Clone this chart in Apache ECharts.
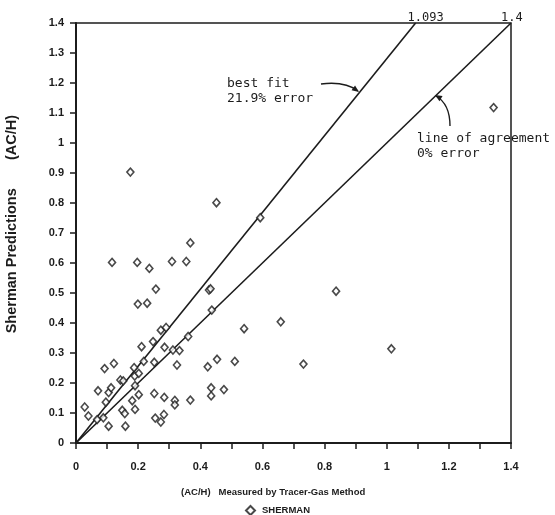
<!DOCTYPE html>
<html>
<head>
<meta charset="utf-8">
<script src="https://cdn.jsdelivr.net/npm/echarts@6/dist/echarts.min.js"></script>
<style>
  html, body { margin: 0; padding: 0; background: #fff; }
  #chart { width: 555px; height: 515px; }
</style>
</head>
<body>
<div id="chart"></div>
<script>
// air changes per hour, measured (x) vs Sherman prediction (y)
const measured = [
  0.028, 0.040, 0.068, 0.088, 0.071, 0.092, 0.122, 0.096, 0.105, 0.113,
  0.105, 0.143, 0.152, 0.149, 0.157, 0.159, 0.181, 0.190, 0.202, 0.187,
  0.189, 0.202, 0.190, 0.211, 0.218, 0.248, 0.252, 0.273, 0.290, 0.285,
  0.312, 0.333, 0.325, 0.361, 0.252, 0.284, 0.318, 0.318, 0.368, 0.255,
  0.273, 0.283, 0.116, 0.197, 0.236, 0.309, 0.355, 0.368, 0.257, 0.199,
  0.229, 0.428, 0.433, 0.437, 0.424, 0.454, 0.511, 0.435, 0.435, 0.476,
  0.541, 0.659, 0.837, 0.732, 1.015, 0.175, 0.452, 0.593, 1.344
]
const predicted = [
  0.120, 0.090, 0.078, 0.084, 0.174, 0.248, 0.265, 0.136, 0.168, 0.184,
  0.056, 0.210, 0.207, 0.109, 0.098, 0.056, 0.141, 0.112, 0.161, 0.251,
  0.223, 0.232, 0.191, 0.321, 0.272, 0.338, 0.269, 0.376, 0.385, 0.319,
  0.310, 0.308, 0.260, 0.355, 0.165, 0.152, 0.142, 0.127, 0.143, 0.083,
  0.070, 0.095, 0.602, 0.602, 0.582, 0.605, 0.605, 0.667, 0.513, 0.463,
  0.466, 0.510, 0.514, 0.443, 0.254, 0.279, 0.272, 0.184, 0.157, 0.178,
  0.381, 0.404, 0.506, 0.263, 0.314, 0.903, 0.801, 0.751, 1.118
]
const bestFitLine = [[0, 0], [1.093, 1.4]]
const agreementLine = [[0, 0], [1.4, 1.4]]
const xTickLabels = ['0', '', '0.2', '', '0.4', '', '0.6', '', '0.8', '', '1', '', '1.2', '', '1.4']
const yTickLabels = ['0', '0.1', '0.2', '0.3', '0.4', '0.5', '0.6', '0.7', '0.8', '0.9', '1', '1.1', '1.2', '1.3', '1.4']

const ink = '#1c1c1c'
const tickFont = { color: ink, fontFamily: 'Liberation Sans', fontWeight: 'bold', fontSize: 11 }
const monoFont = 'DejaVu Sans Mono'

function points() {
  return measured.map((x, i) => [x, predicted[i]])
}

// little filled triangle at the end of a curved pointer
function arrowHead(tip, from) {
  const dx = tip[0] - from[0]
  const dy = tip[1] - from[1]
  const len = Math.sqrt(dx * dx + dy * dy)
  const ux = dx / len, uy = dy / len
  const bx = tip[0] - ux * 7, by = tip[1] - uy * 7
  return {
    type: 'polygon',
    shape: { points: [tip, [bx - uy * 3, by + ux * 3], [bx + uy * 3, by - ux * 3]] },
    style: { fill: ink }
  }
}

const chart = echarts.init(document.getElementById('chart'))
const option = {
  backgroundColor: '#fff',
  animation: false,
  grid: {
    left: 76, right: 44, top: 23, bottom: 72,
    show: true, borderColor: ink, borderWidth: 1.5, containLabel: false
  },
  legend: {
    left: 240, top: 500,
    itemWidth: 9, itemHeight: 9, itemGap: 4,
    data: ['SHERMAN'],
    textStyle: { color: ink, fontFamily: 'Liberation Sans', fontWeight: 'bold', fontSize: 9.5, padding: [0, 0, 0, 2] }
  },
  xAxis: {
    type: 'value', min: 0, max: 1.4, interval: 0.1,
    splitLine: { show: false },
    axisLine: { show: true, onZero: false, lineStyle: { color: ink, width: 2 } },
    axisTick: { show: true, length: 6, lineStyle: { color: ink, width: 1.5 } },
    axisLabel: Object.assign({ margin: 18, formatter: v => xTickLabels[Math.round(v * 10)] }, tickFont)
  },
  yAxis: {
    type: 'value', min: 0, max: 1.4, interval: 0.1,
    splitLine: { show: false },
    axisLine: { show: true, onZero: false, lineStyle: { color: ink, width: 2 } },
    axisTick: { show: true, length: 6, lineStyle: { color: ink, width: 1.5 } },
    axisLabel: Object.assign({ margin: 12, formatter: v => yTickLabels[Math.round(v * 10)] }, tickFont)
  },
  series: [
    {
      name: 'best fit', type: 'line', data: bestFitLine,
      symbol: 'none', silent: true,
      lineStyle: { color: ink, width: 1.6 },
      endLabel: { show: true, formatter: '1.093', color: ink, fontFamily: monoFont, fontSize: 12, align: 'left', verticalAlign: 'bottom', offset: [-16, 1] }
    },
    {
      name: 'line of agreement', type: 'line', data: agreementLine,
      symbol: 'none', silent: true,
      lineStyle: { color: ink, width: 1.6 },
      endLabel: { show: true, formatter: '1.4', color: ink, fontFamily: monoFont, fontSize: 12, align: 'left', verticalAlign: 'bottom', offset: [-18, 1] }
    },
    {
      name: 'SHERMAN', type: 'scatter', data: points(),
      symbol: 'diamond', symbolSize: [7, 8],
      itemStyle: { color: '#fff', borderColor: ink, borderWidth: 1.6 },
      z: 3
    }
  ],
  graphic: [
    {
      type: 'text', left: 4, top: 115, rotation: Math.PI / 2,
      style: { text: 'Sherman Predictions       (AC/H)', fill: ink, font: 'bold 14.5px "Liberation Sans"' }
    },
    {
      type: 'text', x: 181, y: 487,
      style: { text: '(AC/H)   Measured by Tracer-Gas Method', fill: ink, font: 'bold 9.5px "Liberation Sans"' }
    },
    {
      type: 'text', x: 227, y: 76,
      style: { text: 'best fit\n21.9% error', fill: ink, font: '13px "DejaVu Sans Mono"', lineHeight: 15 }
    },
    {
      type: 'text', x: 417, y: 131,
      style: { text: 'line of agreement\n0% error', fill: ink, font: '13px "DejaVu Sans Mono"', lineHeight: 15 }
    },
    {
      type: 'bezierCurve',
      shape: { x1: 321, y1: 84, cpx1: 345, cpy1: 81, x2: 358, y2: 91 },
      style: { stroke: ink, lineWidth: 1.4, fill: null }
    },
    arrowHead([359, 92], [345, 82]),
    {
      type: 'bezierCurve',
      shape: { x1: 450, y1: 126, cpx1: 450, cpy1: 104, x2: 436, y2: 96 },
      style: { stroke: ink, lineWidth: 1.4, fill: null }
    },
    arrowHead([435, 95], [450, 104])
  ]
}
chart.setOption(option)
</script>
</body>
</html>
